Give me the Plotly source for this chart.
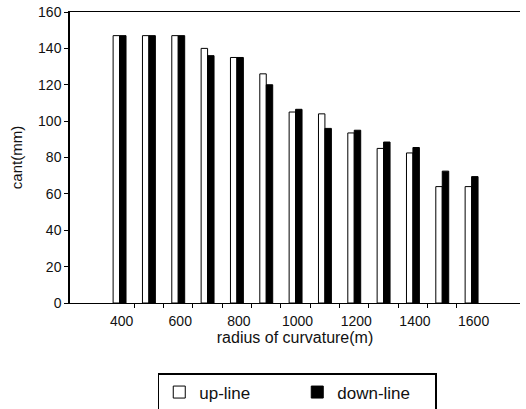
import plotly.graph_objects as go

radius = [400, 500, 600, 700, 800, 900, 1000, 1100, 1200, 1300, 1400, 1500, 1600]
up_line = [147, 147, 147, 140, 135, 126, 105, 104, 93.5, 85, 82.5, 64, 64]
down_line = [147, 147, 147, 136, 135, 120, 106.5, 96, 95, 88.5, 85.5, 72.5, 69.5]

x_tick_vals = [400, 600, 800, 1000, 1200, 1400, 1600]
x_minor_ticks = [450, 550, 650, 750, 850, 950, 1050, 1150, 1250, 1350, 1450, 1550]
y_tick_vals = [0, 20, 40, 60, 80, 100, 120, 140, 160]

FONT = "Liberation Sans, Arial, sans-serif"

fig = go.Figure()
fig.add_trace(go.Bar(
    x=radius, y=up_line, name="up-line",
    marker=dict(color="white", line=dict(color="black", width=1)),
))
fig.add_trace(go.Bar(
    x=radius, y=down_line, name="down-line",
    marker=dict(color="black", line=dict(color="black", width=1)),
))

fig.update_layout(
    width=526, height=409,
    margin=dict(l=70, r=6, t=12, b=106, autoexpand=False),
    paper_bgcolor="white", plot_bgcolor="white",
    barmode="group", bargap=0.56, bargroupgap=0,
    font=dict(family=FONT, size=14, color="#111"),
    showlegend=True,
    legend=dict(
        orientation="h", xref="paper", x=0.505, xanchor="center",
        yref="container", y=0.088, yanchor="top",
        bordercolor="black", borderwidth=1.5,
        font=dict(family=FONT, size=17, color="#111"),
        entrywidth=93, entrywidthmode="pixels",
        itemclick=False,
    ),
    xaxis=dict(
        range=[231, 1765],
        tickvals=x_tick_vals, ticktext=[str(v) for v in x_tick_vals],
        ticks="outside", ticklen=5, tickcolor="rgba(0,0,0,0)",
        ticklabelshift=2,
        minor=dict(tickvals=x_minor_ticks, ticks="outside", ticklen=4, tickcolor="black", showgrid=False),
        showline=True, linecolor="black", linewidth=1, mirror=True,
        showgrid=False, zeroline=False,
        tickfont=dict(size=14),
        title=dict(text="radius of curvature(m)", standoff=4, font=dict(size=16)),
    ),
    yaxis=dict(
        range=[0, 160], tickvals=y_tick_vals,
        ticks="outside", ticklen=4, tickcolor="black",
        showline=True, linecolor="black", linewidth=1.5,
        showgrid=False, zeroline=False,
        tickfont=dict(size=14),
        title=dict(text="cant(mm)", standoff=12, font=dict(size=15)),
    ),
)

fig.write_html("out.html")
